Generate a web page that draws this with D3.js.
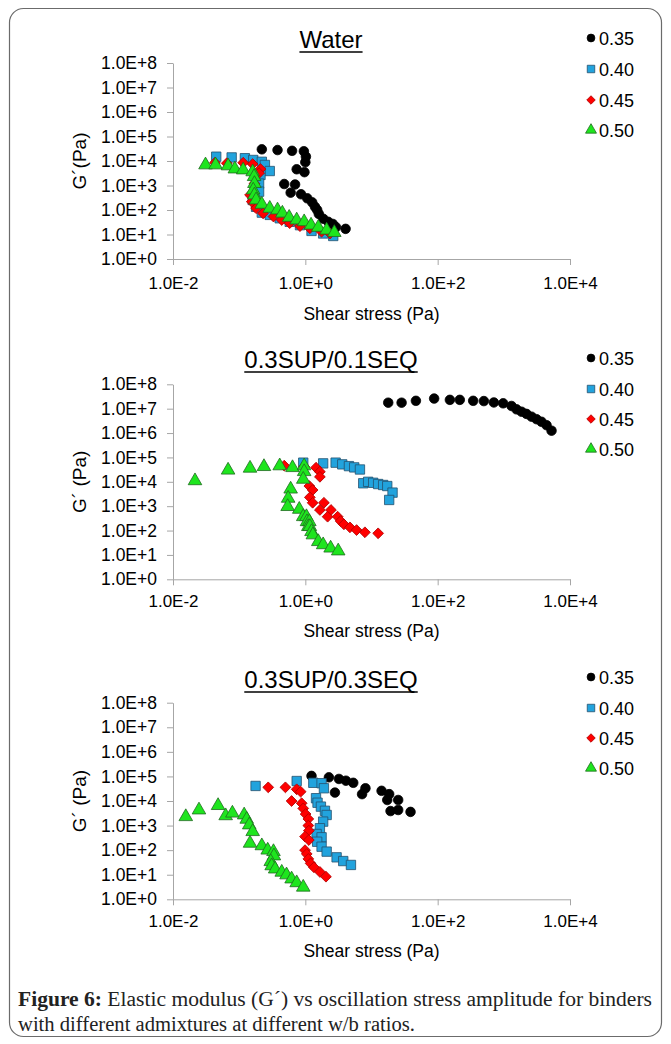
<!DOCTYPE html>
<html>
<head>
<meta charset="utf-8">
<script src="https://cdn.jsdelivr.net/npm/d3@7"></script>
<style>
body { margin: 0; background: #fff; }
svg { display: block; }
</style>
</head>
<body>
<div id="chart"></div>
<script>
// w/b ratios and labels
var ratios = ["0.35", "0.40", "0.45", "0.50"];
var panelTitles = ["Water", "0.3SUP/0.1SEQ", "0.3SUP/0.3SEQ"];
var yTitles = ["G\u00b4(Pa)", "G\u00b4 (Pa)", "G\u00b4 (Pa)"];
var xTitle = "Shear stress (Pa)";
var xTicks = [1e-2, 1e0, 1e2, 1e4];
var yTicks = [1e0, 1e1, 1e2, 1e3, 1e4, 1e5, 1e6, 1e7, 1e8];

// [shear stress (Pa), G' (Pa)]
var water035 = [[0.22,3.0e4],[0.38,2.8e4],[0.63,2.6e4],[0.95,2.5e4],[1.02,1.5e4],[1.0,8.9e3],[0.74,4.6e3],[0.97,3.5e3],
    [0.48,1.15e3],[0.70,1.1e3],[0.60,510],[0.86,440],[1.07,300],[1.27,205],[1.40,135],[1.51,100],[1.60,69],[1.86,44],
    [2.22,33],[2.6,27],[2.9,20],[4.06,17]];
var water040 = [[0.045,1.5e4],[0.077,1.4e4],[0.122,1.3e4],[0.163,1.1e4],[0.22,9.3e3],[0.245,6.9e3],[0.29,3.9e3],[0.21,2.7e3],
    [0.20,1.2e3],[0.20,560],[0.16,257],[0.18,135],[0.22,78],[0.29,63],[0.41,46],[0.58,33],[0.83,24],[1.24,14],[1.86,11],[2.64,8.7]];
var water045 = [[0.043,8.5e3],[0.065,8.1e3],[0.115,8.5e3],[0.16,7.5e3],[0.21,4.7e3],[0.20,3.2e3],[0.17,1.2e3],[0.146,410],
    [0.155,218],[0.18,118],[0.23,73],[0.33,54],[0.44,39],[0.58,29],[0.83,22],[1.17,18],[1.76,13],[2.36,11]];
var water050 = [[0.031,6.9e3],[0.044,6.9e3],[0.068,6.3e3],[0.086,4.7e3],[0.115,4.3e3],[0.16,3.6e3],[0.168,2.3e3],[0.17,1.2e3],
    [0.163,650],[0.17,410],[0.18,257],[0.22,170],[0.29,117],[0.38,100],[0.45,74],[0.57,50],[0.74,39],[0.96,33],[1.22,24],
    [1.57,19.5],[2.1,15],[2.74,12]];

var sup01_035 = [[17.9,1.76e7],[28.5,1.76e7],[46.9,2.1e7],[88.5,2.6e7],[153,2.3e7],[216,2.3e7],[344,2.1e7],[499,2.05e7],
    [706,1.8e7],[977,1.66e7],[1306,1.29e7],[1556,9.4e6],[1850,7.5e6],[2200,6.1e6],[2620,4.7e6],[3120,3.7e6],[3715,2.9e6],
    [4420,2.1e6],[5260,1.25e6]];
var sup01_040 = [[0.93,6.1e4],[1.86,5.7e4],[2.87,6.1e4],[3.61,5.2e4],[4.56,4.4e4],[5.48,3.9e4],[6.69,3.2e4],[7.5,8.7e3],
    [8.9,1.0e4],[10.6,9.1e3],[12.6,8.1e3],[15.0,7.4e3],[17.3,6.7e3],[20.8,3.6e3],[18.5,1.8e3]];
var sup01_045 = [[0.48,4.6e4],[0.96,4.2e4],[1.45,3.8e4],[1.66,2.6e4],[1.66,1.6e4],[1.15,6.7e3],[1.29,4.6e3],[1.17,2.3e3],
    [1.29,1.38e3],[1.91,1.38e3],[1.66,700],[2.44,700],[2.17,370],[3.08,370],[3.41,245],[3.83,180],[4.72,135],[5.95,105],
    [7.95,85],[12.6,77]];
var sup01_050 = [[0.0215,1.1e4],[0.068,3.0e4],[0.146,3.6e4],[0.237,4.2e4],[0.41,4.5e4],[0.64,3.8e4],[0.96,4.5e4],[0.96,2.6e4],
    [0.93,1.26e4],[0.60,5.0e3],[0.55,2.1e3],[0.54,960],[0.81,740],[0.93,370],[1.04,370],[1.06,230],[1.15,230],[1.11,145],
    [1.17,145],[1.24,90],[1.30,66],[1.57,35],[1.86,26],[2.41,19],[3.14,14.5]];

var sup03_035 = [[1.24,1.05e5],[2.27,9.2e4],[3.22,7.9e4],[4.1,6.7e4],[5.3,5.5e4],[2.8,2.2e4],[8.1,3.3e4],[7.2,1.9e4],
    [14.2,2.6e4],[18.5,1.9e4],[17.3,1.1e4],[25.3,1.1e4],[19.4,3.9e3],[25.3,4.3e3],[38.9,3.6e3]];
var sup03_040 = [[0.177,4.1e4],[0.74,6.5e4],[1.32,5.5e4],[1.76,5.3e4],[1.91,3.3e4],[1.45,1.3e4],[1.53,8.5e3],[1.72,5.9e3],
    [1.98,4.0e3],[2.10,2.7e3],[1.86,1.45e3],[1.66,780],[1.48,455],[1.76,333],[1.51,220],[1.76,138],[2.10,87],[2.97,51],
    [3.74,36],[4.89,25]];
var sup03_045 = [[0.275,3.6e4],[0.50,3.6e4],[0.74,3.0e4],[0.85,2.4e4],[0.62,1.0e4],[0.88,8.1e3],[0.93,5.0e3],[1.01,2.95e3],
    [1.11,1.86e3],[1.11,1.0e3],[1.13,620],[0.99,355],[1.13,258],[0.99,100],[1.05,70],[1.11,44],[1.20,29],[1.35,20],
    [1.66,13],[2.05,8.3]];
var sup03_050 = [[0.0156,2.3e3],[0.0247,4.3e3],[0.048,6.5e3],[0.0625,2.5e3],[0.079,3.2e3],[0.119,2.7e3],[0.13,1.8e3],
    [0.142,1.06e3],[0.16,565],[0.146,190],[0.22,150],[0.27,100],[0.33,87],[0.335,58],[0.30,34],[0.31,23],[0.35,17],
    [0.44,12.6],[0.52,9.8],[0.62,6.7],[0.74,4.7],[0.93,3.1]];

var panelSeries = [
    [water035, water040, water045, water050],
    [sup01_035, sup01_040, sup01_045, sup01_050],
    [sup03_035, sup03_040, sup03_045, sup03_050]
];

// layout of the three stacked panels
var PANELS = [
    {"top": 63, "bottom": 259, "titleY": 48, "legendY": [38, 69, 100, 130], "tickDy": 29.5, "titleDy": 61},
    {"top": 384.3, "bottom": 579.3, "titleY": 368, "legendY": [358, 389, 419, 449], "tickDy": 28, "titleDy": 58},
    {"top": 702.7, "bottom": 899.3, "titleY": 688, "legendY": [677, 708, 738, 768], "tickDy": 28, "titleDy": 58}
];
var X_RANGE = [173, 570];

var STYLES = [
    {"type": d3.symbolCircle, "size": 72, "legendSize": 48, "fill": "#000000", "stroke": "#000000", "rotate": 0},
    {"type": d3.symbolSquare, "size": 88, "legendSize": 56, "fill": "#22a3dd", "stroke": "#24506f", "rotate": 0},
    {"type": d3.symbolSquare, "size": 58, "legendSize": 36, "fill": "#ff0000", "stroke": "#b00000", "rotate": 45},
    {"type": d3.symbolTriangle, "size": 80, "legendSize": 52, "fill": "#1ee51e", "stroke": "#1f6b1f", "rotate": 0}
];

var FONT = "'Liberation Sans', Arial, sans-serif";
var AXIS_COLOR = "#a6a6a6";

var svg = d3.select("#chart").append("svg")
    .attr("width", 671)
    .attr("height", 1044);

svg.append("rect")
    .attr("x", 9.5).attr("y", 8.5)
    .attr("width", 652).attr("height", 1028)
    .attr("rx", 14).attr("ry", 14)
    .attr("fill", "none")
    .attr("stroke", "#6b6b6b")
    .attr("stroke-width", 1.2);

function expFormat(d) {
    var e = Math.round(Math.log10(d));
    return "1.0E" + (e < 0 ? "-" : "+") + Math.abs(e);
}

function drawPanel(p, i) {
    var x = d3.scaleLog().domain([1e-2, 1e4]).range(X_RANGE);
    var y = d3.scaleLog().domain([1, 1e8]).range([p.bottom, p.top]);

    var g = svg.append("g").attr("class", "panel");

    // y axis
    var yAxis = g.append("g")
        .attr("transform", "translate(" + X_RANGE[0] + ",0)")
        .call(d3.axisLeft(y).tickValues(yTicks).tickFormat(expFormat).tickSize(6).tickSizeOuter(0).tickPadding(10));
    yAxis.selectAll("text").attr("font-size", "17.5px").attr("fill", "#000");

    // x axis
    var xAxis = g.append("g")
        .attr("transform", "translate(0," + p.bottom + ")")
        .call(d3.axisBottom(x).tickValues(xTicks).tickFormat(expFormat).tickSize(6).tickSizeOuter(0));
    xAxis.selectAll("text")
        .attr("y", p.tickDy).attr("dy", null)
        .attr("font-size", "17px").attr("fill", "#000");

    g.selectAll(".domain, .tick line").attr("stroke", AXIS_COLOR);
    g.selectAll("text").attr("font-family", FONT);

    // axis titles
    g.append("text")
        .attr("x", (X_RANGE[0] + X_RANGE[1]) / 2)
        .attr("y", p.bottom + p.titleDy)
        .attr("text-anchor", "middle")
        .attr("font-family", FONT)
        .attr("font-size", "17.5px")
        .text(xTitle);

    g.append("text")
        .attr("transform", "translate(86," + (p.top + p.bottom) / 2 + ") rotate(-90)")
        .attr("text-anchor", "middle")
        .attr("font-family", FONT)
        .attr("font-size", "19px")
        .text(yTitles[i]);

    // underlined panel title
    var title = g.append("text")
        .attr("x", 331)
        .attr("y", p.titleY)
        .attr("text-anchor", "middle")
        .attr("font-family", FONT)
        .attr("font-size", "24px")
        .text(panelTitles[i]);
    var w = title.node().getComputedTextLength();
    g.append("line")
        .attr("x1", 331 - w / 2).attr("x2", 331 + w / 2)
        .attr("y1", p.titleY + 4).attr("y2", p.titleY + 4)
        .attr("stroke", "#000").attr("stroke-width", 1.6);

    // data points, in Excel series order
    panelSeries[i].forEach(function (series, s) {
        var st = STYLES[s];
        var sym = d3.symbol().type(st.type).size(st.size);
        g.append("g").selectAll("path")
            .data(series)
            .enter().append("path")
            .attr("d", sym)
            .attr("transform", function (d) {
                return "translate(" + x(d[0]) + "," + y(d[1]) + ") rotate(" + st.rotate + ")";
            })
            .attr("fill", st.fill)
            .attr("stroke", st.stroke)
            .attr("stroke-width", 0.8);
    });

    // legend
    var legend = g.append("g").selectAll("g")
        .data(ratios)
        .enter().append("g")
        .attr("transform", function (d, k) { return "translate(591," + p.legendY[k] + ")"; });
    legend.append("path")
        .attr("d", function (d, k) { return d3.symbol().type(STYLES[k].type).size(STYLES[k].legendSize)(); })
        .attr("transform", function (d, k) { return "rotate(" + STYLES[k].rotate + ")"; })
        .attr("fill", function (d, k) { return STYLES[k].fill; })
        .attr("stroke", function (d, k) { return STYLES[k].stroke; })
        .attr("stroke-width", 0.8);
    legend.append("text")
        .attr("x", 8)
        .attr("y", 6.5)
        .attr("font-family", FONT)
        .attr("font-size", "18px")
        .text(function (d) { return d; });
}

PANELS.forEach(drawPanel);

// caption
var caption = svg.append("g")
    .attr("font-family", "'Liberation Serif', 'Times New Roman', serif")
    .attr("font-size", "20.5px")
    .attr("fill", "#222");
var line1 = caption.append("text").attr("x", 18).attr("y", 1006)
    .attr("textLength", 634).attr("lengthAdjust", "spacingAndGlyphs");
line1.append("tspan").attr("font-weight", "bold").text("Figure 6:");
line1.append("tspan").text(" Elastic modulus (G\u00b4) vs oscillation stress amplitude for binders");
caption.append("text").attr("x", 18).attr("y", 1031)
    .attr("textLength", 397).attr("lengthAdjust", "spacingAndGlyphs")
    .text("with different admixtures at different w/b ratios.");
</script>
</body>
</html>
